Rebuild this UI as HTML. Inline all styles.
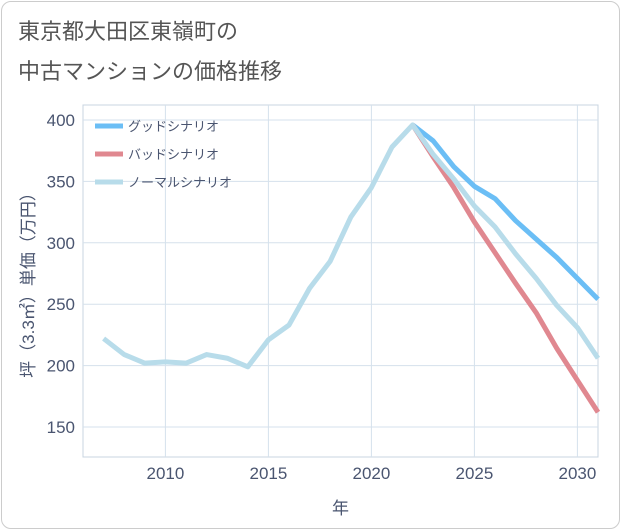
<!DOCTYPE html>
<html><head><meta charset="utf-8"><style>
body{margin:0;background:#fff;}
#wrap{position:relative;width:621px;height:530px;font-family:"Liberation Sans","Noto Sans CJK JP",sans-serif;}
#frame{position:absolute;left:1px;top:1px;width:617px;height:526px;border:1px solid #ccc;border-radius:10px;}
.title{position:absolute;left:18px;font-size:22px;color:#555;}
</style></head><body>
<div id="wrap">
<div id="frame"></div>
<div class="title" style="top:14px">東京都大田区東嶺町の</div>
<div class="title" style="top:54px">中古マンションの価格推移</div>
<svg id="chart" width="621" height="530" style="position:absolute;left:0;top:0"></svg>
</div>
<script>
const years=[2007,2008,2009,2010,2011,2012,2013,2014,2015,2016,2017,2018,2019,2020,2021,2022,2023,2024,2025,2026,2027,2028,2029,2030,2031];
const normalVals=[222,209,202,203,202,209,206,199,221,233,263,285,321,345,378,396,372,352,330,313,291,271,249,231,206];
const futureYears=[2022,2023,2024,2025,2026,2027,2028,2029,2030,2031];
const goodVals=[396,383,362,346,336,318,303,288,271,254];
const badVals=[396,370,345,317,292,267,243,214,188,162];
const xTicks=[2010,2015,2020,2025,2030];
const yTicks=[150,200,250,300,350,400];
const legendLabels=["グッドシナリオ","バッドシナリオ","ノーマルシナリオ"];

const L=83,R=598,T=105,B=457;
const x=v=>L+(v-2006)/(2031-2006)*(R-L);
const y=v=>120+(400-v)*(427-120)/250;
const svg=document.getElementById('chart');
const NS='http://www.w3.org/2000/svg';
function mk(t,a){const e=document.createElementNS(NS,t);for(const k in a)e.setAttribute(k,a[k]);svg.appendChild(e);return e;}
const bg=mk('rect',{x:L,y:T,width:R-L,height:B-T,fill:'#fff',stroke:'#c8d4e0'});


for(const v of yTicks){
 const g=mk('line',{x1:L,x2:R,y1:y(v),y2:y(v),stroke:'#d5e1ec'});
 
 
 const t=mk('text',{x:L-8,y:y(v)+6,'text-anchor':'end','font-size':17,fill:'#4a5570'});
 t.textContent=v;
 
 
}
for(const v of xTicks){
 const g=mk('line',{x1:x(v),x2:x(v),y1:T,y2:B,stroke:'#d5e1ec'});
 
 
 const t=mk('text',{x:x(v),y:B+22,'text-anchor':'middle','font-size':17,fill:'#4a5570'});
 t.textContent=v;
 
 
}
const xt=mk('text',{x:(L+R)/2,y:514,'text-anchor':'middle','font-size':17,fill:'#4a5570'});
xt.textContent='年';


const yt=mk('text',{x:0,y:0,'text-anchor':'middle','font-size':17,fill:'#4a5570',transform:'translate(34,'+((T+B)/2)+') rotate(-90)'});
yt.textContent='坪（3.3㎡）単価（万円）';


function line(xs,vs,color,name){
 const p=mk('polyline',{points:xs.map((t,i)=>x(t)+','+y(vs[i])).join(' '),fill:'none',stroke:color,'stroke-width':5,'stroke-linejoin':'round'});
 
 
}
line(futureYears,goodVals,'#6bbef5','good-scenario-line');
line(futureYears,badVals,'#e08890','bad-scenario-line');
line(years,normalVals,'#b8dcea','normal-scenario-line');
const lc=['#6bbef5','#e08890','#b8dcea'];
legendLabels.forEach((s,i)=>{
 const yy=126+i*28;
 const l=mk('line',{x1:95,x2:123,y1:yy,y2:yy,stroke:lc[i],'stroke-width':5});
 
 
 const t=mk('text',{x:128,y:yy+5,'font-size':13,fill:'#4a5570'});
 t.textContent=s;
 
 
});
</script>
</body></html>
